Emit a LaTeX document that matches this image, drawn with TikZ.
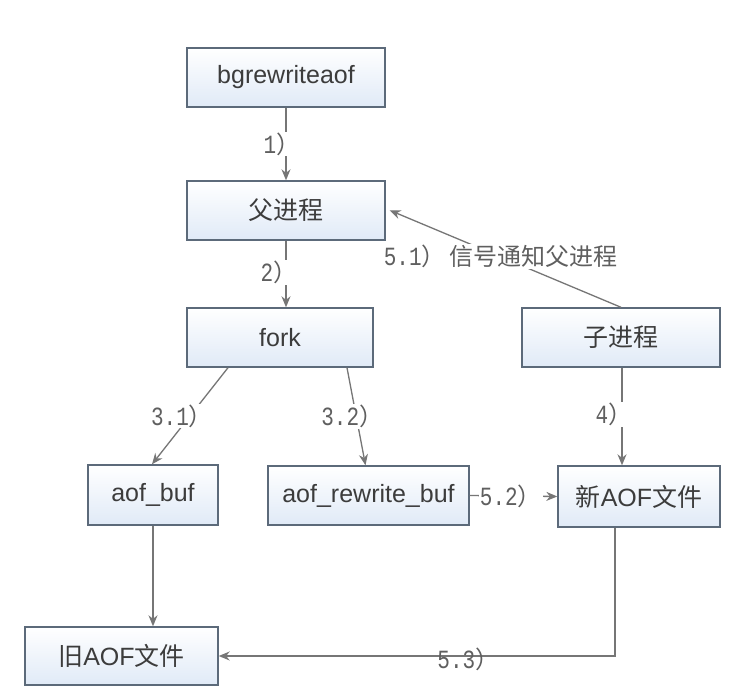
\documentclass[tikz,border=0pt]{standalone}
\usepackage{fontspec}
\setmainfont{Liberation Sans}
\newfontfamily\cjk{Noto Sans CJK SC}
\newfontfamily\lblmono{Liberation Mono}
\usetikzlibrary{arrows.meta,calc}
\definecolor{boxline}{RGB}{92,106,122}
\definecolor{boxfill}{RGB}{224,234,247}
\definecolor{txt}{RGB}{60,60,60}
\definecolor{lin}{RGB}{118,118,118}
\definecolor{lbltxt}{RGB}{95,95,95}
\newcommand\numpart[1]{\scalebox{1}[1.25]{\fontsize{21}{24}\selectfont\lblmono #1}}
\newcommand\steplab[1]{\numpart{#1}{\cjk ）}}
\begin{document}
\begin{tikzpicture}[x=1pt,y=-1pt,
  box/.style={draw=boxline, line width=1.4pt, top color=white, bottom color=boxfill,
    minimum height=59pt, text=txt, font=\fontsize{25}{29}\selectfont, inner sep=0pt},
  conn/.style={draw=lin, line width=1.3pt, -{Stealth[length=11pt,width=9pt]}},
  lbl/.style={fill=white, text=lbltxt, inner sep=1pt, font=\fontsize{24}{28}\selectfont}]
\useasboundingbox (0,0) rectangle (738,700);
\fill[white] (0,0) rectangle (738,700);

\node[box, minimum width=198pt] (bg) at (286,77.5) {bgrewriteaof};
\node[box, minimum width=198pt] (fu) at (286,210.5) {\cjk 父进程};
\node[box, minimum width=186pt] (fork) at (280,337.5) {fork};
\node[box, minimum width=198pt] (zi) at (621,337.5) {\cjk 子进程};
\node[box, minimum width=130pt, minimum height=60pt] (abuf) at (153,495) {aof\_buf};
\node[box, minimum width=201pt] (rbuf) at (368.5,495.5) {aof\_rewrite\_buf};
\node[box, minimum width=162pt, minimum height=61pt] (newf) at (639,496.5) {{\cjk 新}AOF{\cjk 文件}};
\node[box, minimum width=193pt, minimum height=58pt] (oldf) at (121.5,656) {{\cjk 旧}AOF{\cjk 文件}};

\draw[conn] (bg.south) -- node[lbl, pos=0.5, xshift=-4pt] {\steplab{1}} (fu.north);
\draw[conn] (fu.south) -- node[lbl, pos=0.48, xshift=-7pt] {\steplab{2}} ($(fork.north)+(6,0)$);
\draw[conn] ($(fork.south)+(-52,0)$) -- node[lbl, pos=0.5, xshift=-8pt] {\steplab{3.1}} ($(abuf.north)+(-1,0)$);
\draw[conn] ($(fork.south)+(67,0)$) -- node[lbl, pos=0.5, xshift=-4pt] {\steplab{3.2}} ($(rbuf.north)+(-3,0)$);
\draw[conn] ($(zi.south)+(1,0)$) -- node[lbl, pos=0.48, xshift=-8pt] {\steplab{4}} ($(newf.north)+(-17,0)$);
\draw[conn] (rbuf.east) -- node[lbl, pos=0.47] {\steplab{5.2}} (newf.west);
\draw[conn] (zi.north) -- node[lbl, pos=0.52] {\numpart{5.1}{\cjk ）\,信号通知父进程}} ($(fu.north east)+(4,30)$);
\draw[conn] (abuf.south) -- (oldf.north -| abuf.south);
\coordinate (corner) at ($(newf.south)+(-24,0)$);
\draw[conn] (corner) -- (corner |- oldf.east) -- node[lbl, pos=0.37, yshift=-3pt, fill=none] {\steplab{5.3}} (oldf.east);
\end{tikzpicture}
\end{document}
